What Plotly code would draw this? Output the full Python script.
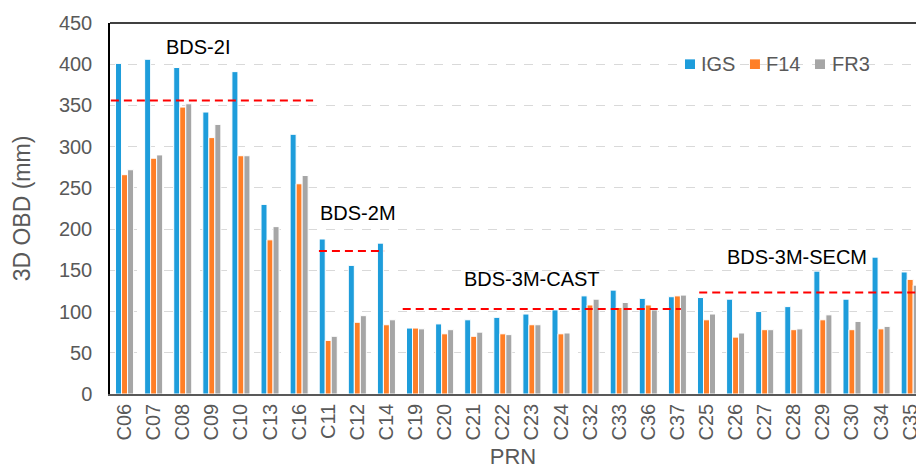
import plotly.graph_objects as go

# ---------------- data ----------------
prn = ["C06", "C07", "C08", "C09", "C10", "C13", "C16",
       "C11", "C12", "C14",
       "C19", "C20", "C21", "C22", "C23", "C24", "C32", "C33", "C36", "C37",
       "C25", "C26", "C27", "C28", "C29", "C30", "C34", "C35"]
igs = [401, 406, 396, 342, 391, 230, 315,
       188, 156, 183,
       80, 85, 90, 93, 97, 102, 119, 126, 116, 118,
       117, 115, 100, 106, 149, 115, 166, 148]
f14 = [266, 286, 348, 311, 289, 187, 255,
       65, 87, 84,
       80, 73, 70, 73, 84, 73, 108, 105, 108, 119,
       90, 69, 78, 78, 90, 78, 79, 139]
fr3 = [272, 290, 352, 327, 289, 203, 265,
       70, 95, 90,
       79, 78, 75, 72, 84, 74, 115, 111, 102, 120,
       97, 74, 78, 79, 96, 88, 82, 132]
series_names = ["IGS", "F14", "FR3"]

# satellite groups: label, mean line value, line span in category units
group_labels = ["BDS-2I", "BDS-2M", "BDS-3M-CAST", "BDS-3M-SECM"]
group_means = [356, 173.5, 103, 123]
group_start = [-0.47, 6.68, 9.56, 19.75]
group_end = [6.48, 8.92, 19.12, 27.8]
y_ticks = [0, 50, 100, 150, 200, 250, 300, 350, 400, 450]

# ---------------- style ----------------
colors = ["#1E9DDB", "#FF7F27", "#A6A6A6"]
font_family = "Liberation Sans, Arial, sans-serif"
tick_color = "#595959"

xs = list(range(len(prn)))
fig = go.Figure()
for name, vals, col in zip(series_names, [igs, f14, fr3], colors):
    fig.add_trace(go.Bar(x=xs, y=vals, name=name,
                         marker=dict(color=col, line=dict(color="white", width=1)),
                         showlegend=False))

# red dashed mean lines
for m, s, e in zip(group_means, group_start, group_end):
    fig.add_trace(go.Scatter(x=[s, e], y=[m, m], mode="lines", showlegend=False,
                             line=dict(color="#FF0000", width=2, dash="8px,5px"), hoverinfo="skip"))

# group labels
label_pos = [(2.51, 421), (8.04, 219), (13.99, 139.5), (23.12, 166.5)]
for txt, (lx, ly) in zip(group_labels, label_pos):
    fig.add_annotation(x=lx, y=ly, text=txt, showarrow=False,
                       font=dict(family=font_family, size=20, color="#000000"))

# legend (small squares + text), placed in plot-area fractions
leg_sq_x = [0.7134, 0.7940, 0.8747]
leg_txt_x = [0.7310, 0.8120, 0.8930]
for name, col, sx, tx in zip(series_names, colors, leg_sq_x, leg_txt_x):
    fig.add_shape(type="rect", xref="paper", yref="paper", x0=sx, x1=sx + 0.0124,
                  y0=0.876, y1=0.902, fillcolor=col, line=dict(width=0))
    fig.add_annotation(xref="paper", yref="paper", x=tx, y=0.889, xanchor="left", yanchor="middle",
                       text=name, showarrow=False,
                       font=dict(family=font_family, size=20, color=tick_color))

# top frame line
fig.add_shape(type="line", xref="paper", yref="paper", x0=0, x1=1, y0=1, y1=1,
              line=dict(color="#000000", width=1.5))

fig.update_layout(
    width=916, height=470,
    margin=dict(l=110, r=0, t=23, b=76, autoexpand=False),
    paper_bgcolor="white", plot_bgcolor="white",
    barmode="group", bargap=0.38, bargroupgap=0,
    font=dict(family=font_family, size=20, color=tick_color),
    showlegend=False,
)
fig.update_xaxes(
    range=[-0.5, 27.2], tickvals=xs, ticktext=prn, tickangle=-90,
    tickfont=dict(size=20, color=tick_color), automargin=False,
    ticklabeloverflow="allow",
    showline=True, linecolor="#595959", linewidth=1.5,
    showgrid=False, zeroline=False, ticks="",
    title=dict(text="PRN", font=dict(size=22, color=tick_color), standoff=9),
)
fig.update_yaxes(
    range=[0, 450], tickvals=y_ticks, automargin=False,
    tickfont=dict(size=20, color=tick_color),
    showline=True, linecolor="#000000", linewidth=1.5,
    showgrid=True, gridcolor="#D9D9D9", griddash="dash", gridwidth=1,
    zeroline=False, ticks="", ticklabelstandoff=12,
    title=dict(text="3D OBD (mm)", font=dict(size=23, color=tick_color), standoff=22),
)

# remove the browser's default body margin so the 916x470 figure fills the window exactly
fig.write_html("out.html",
               config={"displayModeBar": False},
               post_script="document.body.style.margin='0';document.body.style.overflow='hidden';")
